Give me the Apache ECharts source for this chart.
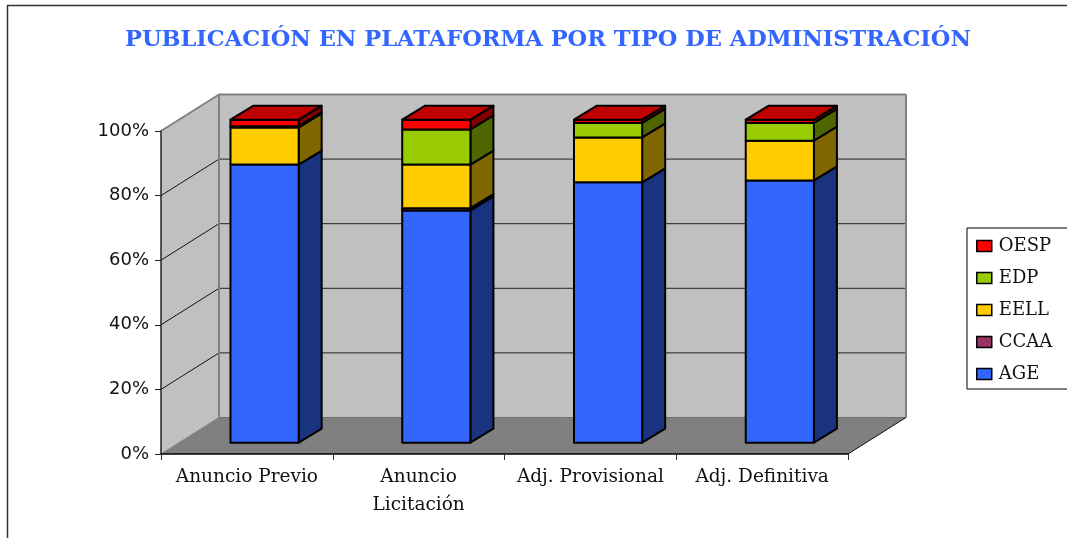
<!DOCTYPE html>
<html><head><meta charset="utf-8">
<style>html,body{margin:0;padding:0;background:#fff}#c{width:1067px;height:538px}</style>
<script src="https://cdn.jsdelivr.net/npm/echarts@6/dist/echarts.min.js"></script>
</head><body><div id="c"></div>
<script>
const categories = ['Anuncio Previo', 'Anuncio\nLicitación', 'Adj. Provisional', 'Adj. Definitiva'];
const age  = [86.1, 71.9, 80.6, 81.2];
const ccaa = [0, 0.7, 0, 0];
const eell = [11.5, 13.5, 13.9, 12.3];
const edp  = [0.4, 10.9, 4.5, 5.5];
const oesp = [2.0, 3.0, 1.0, 1.0];
const yTicks = [0, 20, 40, 60, 80, 100];
const seriesDefs = [
  {name:'AGE',  values:age,  front:'#3366FF', side:'#19337F', top:'#264CBF'},
  {name:'CCAA', values:ccaa, front:'#993366', side:'#4C1933', top:'#73264C'},
  {name:'EELL', values:eell, front:'#FFCC00', side:'#806600', top:'#BF9900'},
  {name:'EDP',  values:edp,  front:'#99CC00', side:'#4D6600', top:'#739900'},
  {name:'OESP', values:oesp, front:'#FF0000', side:'#800000', top:'#C00000'}
];
const WALL = {dx:58, dy:-36.5};
const BAR  = {ox:17.7, oy:-11.3, dx:23, dy:-14, widthRatio:0.397};
const SERIF = '"DejaVu Serif"';
const poly = (points, fill, stroke, lw) => ({type:'polygon', shape:{points}, style:{fill, stroke:stroke||'none', lineWidth:lw||0, lineJoin:'round'}});
const seg = (a, b, stroke, lw) => ({type:'line', shape:{x1:a[0],y1:a[1],x2:b[0],y2:b[1]}, style:{stroke, lineWidth:lw}});

function renderWalls(params, api){
  const c = params.coordSys;
  const L=c.x, R=c.x+c.width, T=c.y, B=c.y+c.height, dx=WALL.dx, dy=WALL.dy;
  const kids = [
    poly([[L,T],[L+dx,T+dy],[L+dx,B+dy],[L,B]], '#C0C0C0'),
    poly([[L+dx,T+dy],[R+dx,T+dy],[R+dx,B+dy],[L+dx,B+dy]], '#C0C0C0'),
    poly([[L,B],[L+dx,B+dy],[R+dx,B+dy],[R,B]], '#808080')
  ];
  yTicks.slice(1,-1).forEach(v=>{
    const y = api.coord([0,v])[1];
    kids.push(seg([L,y],[L+dx,y+dy],'#111',1));
    kids.push(seg([L+dx,y+dy],[R+dx,y+dy],'#222',1));
  });
  kids.push(seg([L,T],[L+dx,T+dy],'#808080',2));
  kids.push(seg([L+dx,T+dy],[R+dx,T+dy],'#808080',2));
  kids.push(seg([R+dx,T+dy],[R+dx,B+dy],'#808080',2));
  kids.push(seg([L+dx,T+dy],[L+dx,B+dy],'#808080',2));
  kids.push(seg([L,B],[L+dx,B+dy],'#808080',1));
  kids.push(seg([L+dx,B+dy],[R+dx,B+dy],'#707070',1));
  kids.push(seg([R,B],[R+dx,B+dy],'#111',1));
  return {type:'group', children:kids};
}

function makeBarRender(def){
  return function(params, api){
    const i = api.value(0), lo = api.value(1), hi = api.value(2);
    if (hi-lo <= 0) return null;
    const w = api.size([1,0])[0]*BAR.widthRatio;
    const cx = api.coord([i,0])[0]+BAR.ox;
    const x0 = cx-w/2, x1 = cx+w/2;
    const y0 = api.coord([i,lo])[1]+BAR.oy, y1 = api.coord([i,hi])[1]+BAR.oy;
    const dx = BAR.dx, dy = BAR.dy;
    const kids = [
      poly([[x1,y0],[x1+dx,y0+dy],[x1+dx,y1+dy],[x1,y1]], def.side,'#000',2),
      poly([[x0,y0],[x1,y0],[x1,y1],[x0,y1]], def.front,'#000',2)
    ];
    if (hi >= 99.5) kids.push(poly([[x0,y1],[x1,y1],[x1+dx,y1+dy],[x0+dx,y1+dy]], def.top,'#000',2));
    return {type:'group', children:kids};
  };
}

const barSeries = [];
let running = categories.map(()=>0);
seriesDefs.forEach((def,si)=>{
  const data = def.values.map((v,i)=>{ const lo=running[i]; running[i]=lo+v; return [i,lo,lo+v]; });
  barSeries.push({type:'custom', name:def.name, coordinateSystem:'cartesian2d', z:5+si,
    itemStyle:{color:def.front}, encode:{x:0,y:[1,2]}, data, renderItem:makeBarRender(def), silent:true});
});

const chart = echarts.init(document.getElementById('c'));
chart.setOption({
  animation:false,
  backgroundColor:'#fff',
  title:{text:'PUBLICACIÓN EN PLATAFORMA POR TIPO DE ADMINISTRACIÓN', left:543, top:24, textAlign:'center',
    textStyle:{fontFamily:SERIF, fontWeight:'bold', fontSize:22.5, color:'#3366FF'}},
  grid:{left:161, right:219, top:131, bottom:84},
  xAxis:{type:'category', data:categories, boundaryGap:true,
    axisLine:{lineStyle:{color:'#000',width:1.5}}, axisTick:{show:true,length:6,lineStyle:{color:'#333',width:1}},
    axisLabel:{interval:0, margin:9, fontFamily:SERIF, fontSize:18.5, lineHeight:28, color:'#111'}, z:4},
  yAxis:{type:'value', min:0, max:100, interval:20,
    axisLine:{show:true,lineStyle:{color:'#222',width:1.5}}, axisTick:{show:true,length:6,lineStyle:{color:'#222',width:1}},
    splitLine:{show:false},
    axisLabel:{formatter:'{value}%', margin:12, fontFamily:'"DejaVu Sans"', fontSize:18, color:'#111'}, z:4},
  legend:{orient:'vertical', left:976, top:236, padding:0, icon:'rect', itemWidth:15, itemHeight:11, itemGap:12, selectedMode:false,
    data:['OESP','EDP','EELL','CCAA','AGE'],
    itemStyle:{borderColor:'#000',borderWidth:1.5},
    textStyle:{fontFamily:SERIF, fontSize:18, color:'#111', lineHeight:20, padding:[0,0,0,2]}},
  graphic:[
    {type:'rect', silent:true, z:-10, shape:{x:7.5,y:5.5,width:1080,height:560}, style:{fill:'none',stroke:'#333',lineWidth:1.5}},
    {type:'rect', silent:true, z:-5, shape:{x:967,y:228,width:120,height:161}, style:{fill:'#fff',stroke:'#000',lineWidth:1}}
  ],
  series:[{type:'custom', name:'walls', coordinateSystem:'cartesian2d', z:1, silent:true, data:[[0,0]], encode:{x:0,y:1}, renderItem:renderWalls}].concat(barSeries)
});
</script></body></html>
